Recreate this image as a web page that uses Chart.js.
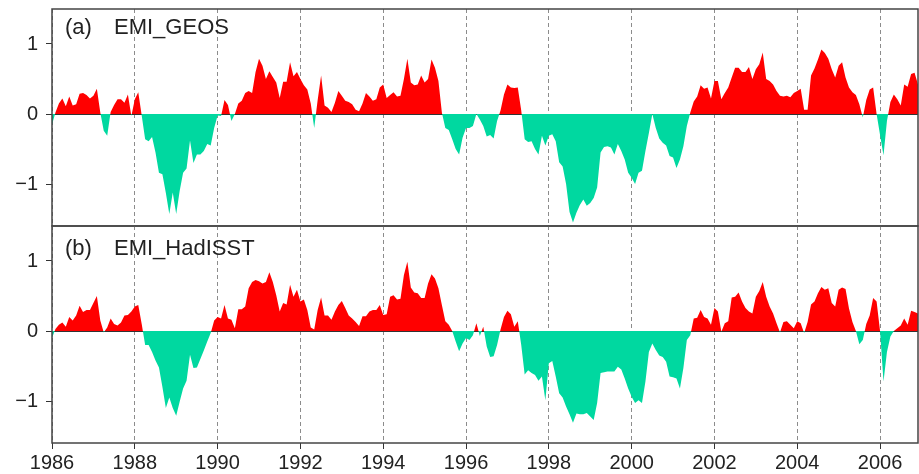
<!DOCTYPE html>
<html>
<head>
<meta charset="utf-8">
<script src="https://cdn.jsdelivr.net/npm/chart.js@4"></script>
<style>
  html, body { margin: 0; padding: 0; background: #fff; }
  #wrap { position: relative; width: 919px; height: 474px; overflow: hidden; background: #fff; }
  canvas { position: absolute; left: 0; }
  #chartA { top: 0; }
  #chartB { top: 220px; }
</style>
</head>
<body>
<div id="wrap">
  <canvas id="chartA" width="919" height="227"></canvas>
  <canvas id="chartB" width="919" height="254"></canvas>
</div>
<script>
// monthly data, Jan 1986 .. Dec 2006 (one row per year)
const startYear = 1986;
const yearTicks = [1986, 1988, 1990, 1992, 1994, 1996, 1998, 2000, 2002, 2004, 2006];
const valueTicks = [-1, 0, 1];

const emiGeos = [
  -0.15, 0.02, 0.15, 0.22, 0.11, 0.25, 0.12, 0.14, 0.29, 0.30, 0.27, 0.22,
  0.26, 0.36, 0.02, -0.24, -0.31, 0.03, 0.13, 0.21, 0.21, 0.16, 0.28, -0.03,
  0.21, 0.31, -0.02, -0.36, -0.39, -0.33, -0.55, -0.84, -0.86, -1.13, -1.43, -1.12,
  -1.43, -1.10, -0.84, -0.78, -0.38, -0.70, -0.58, -0.58, -0.53, -0.43, -0.45, -0.20,
  -0.02, -0.03, 0.20, 0.13, -0.10, 0.00, 0.15, 0.19, 0.30, 0.33, 0.30, 0.60,
  0.79, 0.69, 0.50, 0.61, 0.53, 0.45, 0.23, 0.46, 0.46, 0.74, 0.54, 0.60,
  0.50, 0.41, 0.35, 0.15, -0.20, 0.20, 0.55, 0.12, 0.09, 0.03, 0.16, 0.33,
  0.26, 0.19, 0.17, 0.14, 0.06, 0.04, 0.15, 0.30, 0.25, 0.19, 0.21, 0.38,
  0.42, 0.23, 0.27, 0.31, 0.25, 0.26, 0.50, 0.79, 0.45, 0.41, 0.42, 0.55,
  0.45, 0.50, 0.78, 0.66, 0.47, 0.02, -0.20, -0.23, -0.36, -0.50, -0.58, -0.34,
  -0.20, -0.20, -0.17, 0.00, -0.08, -0.17, -0.32, -0.30, -0.35, -0.10, 0.05, 0.28,
  0.42, 0.38, 0.37, 0.38, 0.05, -0.36, -0.40, -0.39, -0.50, -0.58, -0.31, -0.45,
  -0.31, -0.29, -0.39, -0.69, -0.75, -1.00, -1.40, -1.55, -1.41, -1.30, -1.22, -1.31,
  -1.27, -1.20, -1.05, -0.55, -0.47, -0.46, -0.48, -0.58, -0.43, -0.53, -0.65, -0.84,
  -0.91, -1.00, -0.84, -0.81, -0.53, -0.27, 0.00, -0.20, -0.35, -0.41, -0.45, -0.60,
  -0.62, -0.77, -0.65, -0.46, -0.17, 0.02, 0.18, 0.25, 0.41, 0.36, 0.38, 0.22,
  0.47, 0.47, 0.21, 0.30, 0.38, 0.52, 0.66, 0.66, 0.60, 0.60, 0.67, 0.50,
  0.64, 0.71, 0.88, 0.50, 0.47, 0.42, 0.33, 0.26, 0.25, 0.26, 0.24, 0.30,
  0.33, 0.36, 0.06, 0.06, 0.55, 0.65, 0.78, 0.92, 0.87, 0.79, 0.64, 0.52,
  0.69, 0.74, 0.52, 0.38, 0.31, 0.27, 0.14, -0.05, 0.20, 0.35, 0.38, 0.00,
  -0.30, -0.59, -0.10, 0.17, 0.28, 0.21, 0.12, 0.42, 0.39, 0.57, 0.59, 0.42
];

const emiHadisst = [
  -0.10, 0.03, 0.09, 0.12, 0.06, 0.20, 0.15, 0.22, 0.36, 0.27, 0.30, 0.30,
  0.40, 0.50, 0.15, -0.02, 0.05, 0.18, 0.10, 0.08, 0.12, 0.22, 0.23, 0.28,
  0.35, 0.37, 0.10, -0.20, -0.20, -0.30, -0.42, -0.52, -0.80, -1.10, -0.95, -1.10,
  -1.21, -1.01, -0.82, -0.71, -0.34, -0.53, -0.52, -0.40, -0.28, -0.15, -0.03, 0.15,
  0.20, 0.18, 0.37, 0.18, 0.16, 0.04, 0.31, 0.31, 0.35, 0.61, 0.70, 0.73,
  0.71, 0.68, 0.70, 0.84, 0.70, 0.51, 0.28, 0.40, 0.38, 0.66, 0.49, 0.59,
  0.42, 0.45, 0.30, 0.05, 0.02, 0.30, 0.48, 0.22, 0.22, 0.16, 0.28, 0.37,
  0.43, 0.33, 0.22, 0.18, 0.13, 0.07, 0.21, 0.21, 0.28, 0.30, 0.30, 0.37,
  0.23, 0.24, 0.49, 0.51, 0.45, 0.46, 0.80, 0.99, 0.62, 0.55, 0.54, 0.47,
  0.47, 0.68, 0.81, 0.75, 0.61, 0.37, 0.14, 0.09, 0.00, -0.15, -0.29, -0.18,
  -0.10, -0.13, -0.06, 0.11, -0.07, 0.06, -0.22, -0.37, -0.36, -0.20, 0.02, 0.20,
  0.29, 0.24, 0.06, 0.14, -0.20, -0.62, -0.56, -0.60, -0.63, -0.71, -0.65, -0.99,
  -0.46, -0.43, -0.65, -0.89, -0.95, -1.08, -1.19, -1.31, -1.18, -1.19, -1.19, -1.17,
  -1.22, -1.27, -1.03, -0.60, -0.59, -0.58, -0.58, -0.58, -0.51, -0.55, -0.68, -0.82,
  -0.94, -1.03, -0.99, -1.03, -0.72, -0.30, -0.18, -0.27, -0.35, -0.37, -0.44, -0.65,
  -0.66, -0.68, -0.82, -0.53, -0.13, -0.06, 0.18, 0.19, 0.30, 0.20, 0.18, 0.09,
  0.33, 0.28, -0.01, 0.11, 0.14, 0.48, 0.49, 0.55, 0.42, 0.33, 0.28, 0.25,
  0.49, 0.57, 0.70, 0.49, 0.35, 0.25, 0.11, -0.02, 0.13, 0.14, 0.09, 0.04,
  0.14, 0.11, -0.03, 0.13, 0.38, 0.42, 0.54, 0.63, 0.59, 0.61, 0.40, 0.35,
  0.59, 0.62, 0.60, 0.32, 0.13, 0.00, -0.19, -0.13, 0.10, 0.22, 0.47, 0.42,
  0.00, -0.72, -0.30, -0.08, 0.00, 0.04, 0.08, 0.18, 0.09, 0.29, 0.27, 0.25
];

const RED = '#ff0000';
const GREEN = '#00d8a0';
const INK = '#222';
const tickFont = { family: "'Liberation Sans', Arial, sans-serif", size: 20 };

// frame around the plot and the panel title
const framePlugin = {
  id: 'frame',
  afterDraw(chart, args, opts) {
    const { ctx, chartArea: a } = chart;
    ctx.save();
    ctx.strokeStyle = '#444';
    ctx.lineWidth = 1.5;
    ctx.strokeRect(a.left, a.top, a.right - a.left, a.bottom - a.top);
    ctx.fillStyle = INK;
    ctx.font = "22px 'Liberation Sans', Arial, sans-serif";
    ctx.textBaseline = 'alphabetic';
    ctx.fillText(opts.tag, opts.x, opts.baseline);
    ctx.fillText(opts.name, opts.x + 49, opts.baseline);
    ctx.restore();
  }
};

function makePanel(id, values, tag, name, cfg) {
  const points = values.map((v, i) => ({ x: startYear + i / 12, y: v }));
  return new Chart(document.getElementById(id), {
    type: 'line',
    data: {
      datasets: [{
        label: name,
        data: points,
        fill: { target: { value: 0 }, above: RED, below: GREEN },
        borderWidth: 0,
        borderColor: 'rgba(0,0,0,0)',
        pointRadius: 0,
        tension: 0
      }]
    },
    options: {
      responsive: false,
      maintainAspectRatio: false,
      animation: false,
      devicePixelRatio: 1,
      layout: { padding: { top: cfg.padTop, right: 1, bottom: 1, left: 0 } },
      plugins: {
        legend: { display: false },
        tooltip: { enabled: false },
        title: { display: false },
        frame: { tag: tag, name: name, x: 65, baseline: cfg.titleY }
      },
      scales: {
        x: {
          type: 'linear',
          min: startYear,
          max: startYear + (values.length - 1) / 12,
          z: 1,
          afterBuildTicks: s => { s.ticks = yearTicks.map(v => ({ value: v })); },
          afterFit: s => {
            s.height = cfg.xHeight;
            s.paddingLeft = 0; s.paddingRight = 0; s.paddingTop = 0; s.paddingBottom = 0;
          },
          grid: {
            color: '#8c8c8c',
            lineWidth: 1,
            drawTicks: cfg.showX,
            tickLength: 6,
            tickColor: '#333',
            tickBorderDash: []
          },
          border: { display: false, dash: [4, 3] },
          ticks: {
            display: cfg.showX,
            font: tickFont,
            color: INK,
            padding: 2,
            maxRotation: 0,
            autoSkip: false,
            callback: v => String(v)
          }
        },
        y: {
          min: -1.6,
          max: 1.5,
          z: 1,
          afterBuildTicks: s => { s.ticks = valueTicks.map(v => ({ value: v })); },
          afterFit: s => {
            s.width = 52;
            s.paddingLeft = 0; s.paddingRight = 0; s.paddingTop = 0; s.paddingBottom = 0;
          },
          grid: {
            color: c => (c.tick && c.tick.value === 0) ? '#333' : 'rgba(0,0,0,0)',
            lineWidth: 1,
            tickLength: 6,
            tickColor: '#333'
          },
          border: { display: false },
          ticks: {
            font: tickFont,
            color: INK,
            padding: 8,
            callback: v => v < 0 ? '\u2212' + Math.abs(v) : String(v)
          }
        }
      }
    },
    plugins: [framePlugin]
  });
}

makePanel('chartA', emiGeos, '(a)', 'EMI_GEOS', { padTop: 9, xHeight: 0, showX: false, titleY: 34 });
makePanel('chartB', emiHadisst, '(b)', 'EMI_HadISST', { padTop: 6, xHeight: 30, showX: true, titleY: 35 });
</script>
</body>
</html>
